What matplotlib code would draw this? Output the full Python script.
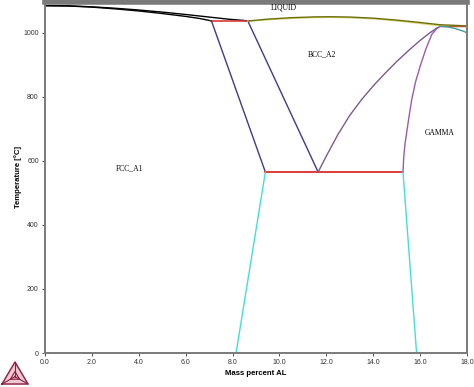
import matplotlib
matplotlib.use("Agg")
import matplotlib.pyplot as plt
import numpy as np

# ---- data (mass percent Al, temperature °C) ----
fcc_liq_x = [0.0, 1.0, 2.0, 3.0, 4.0, 5.0, 6.0, 7.0, 7.8, 8.7]
fcc_liq_t = [1084.6, 1084.0, 1081.0, 1076.5, 1071.0, 1064.5, 1057.0, 1049.0, 1042.5, 1037.0]
fcc_sol_x = [0.0, 1.0, 2.0, 3.0, 4.0, 5.0, 6.0, 6.6, 7.1]
fcc_sol_t = [1084.6, 1083.5, 1080.0, 1074.5, 1068.0, 1060.0, 1051.0, 1044.5, 1037.0]

peritectic_x = [7.1, 8.7]
peritectic_t = [1037.0, 1037.0]

fcc_bcc_left_x = [7.1, 9.4]
fcc_bcc_left_t = [1037.0, 565.0]
fcc_bcc_right_x = [8.65, 11.65]
fcc_bcc_right_t = [1037.0, 565.0]

eutectoid_x = [9.4, 15.27]
eutectoid_t = [565.0, 565.0]

bcc_gam_left_x = [11.65, 12.0, 12.5, 13.0, 13.5, 14.0, 14.5, 15.0, 15.5, 16.0, 16.4, 16.7, 16.85]
bcc_gam_left_t = [565.0, 615.0, 683.0, 742.0, 791.0, 834.0, 873.0, 910.0, 944.0, 976.0, 999.0, 1014.0, 1020.0]
bcc_gam_right_x = [15.27, 15.3, 15.35, 15.43, 15.53, 15.64, 15.8, 16.0, 16.25, 16.5, 16.7, 16.85]
bcc_gam_right_t = [565.0, 610.0, 650.0, 690.0, 740.0, 790.0, 845.0, 895.0, 950.0, 995.0, 1012.0, 1020.0]

bcc_liq_x = [8.7, 9.5, 10.5, 11.5, 12.2, 13.0, 14.0, 15.0, 16.0, 16.85, 17.5, 18.0]
bcc_liq_t = [1037.0, 1042.5, 1047.0, 1049.5, 1050.0, 1049.0, 1045.5, 1039.5, 1032.0, 1025.0, 1023.0, 1021.5]
bcc_sol_x = [8.65, 9.5, 10.5, 11.5, 12.2, 13.0, 14.0, 15.0, 16.0, 16.85, 17.5, 18.0]
bcc_sol_t = [1036.0, 1040.5, 1045.0, 1047.5, 1048.0, 1047.0, 1043.5, 1037.0, 1029.0, 1021.5, 1020.0, 1019.0]

gam_peri_x = [16.85, 18.0]
gam_peri_t = [1020.0, 1020.0]
gam_sol_x = [16.85, 17.2, 17.5, 17.8, 18.0]
gam_sol_t = [1020.0, 1018.0, 1013.0, 1006.0, 1000.0]

fcc_solvus_x = [9.4, 8.15]
fcc_solvus_t = [565.0, 0.0]
gam_solvus_x = [15.27, 15.85]
gam_solvus_t = [565.0, 0.0]

x_ticks = [0, 2, 4, 6, 8, 10, 12, 14, 16, 18]
y_ticks = [0, 200, 400, 600, 800, 1000]

labels = [("LIQUID", 10.2, 1078), ("BCC_A2", 11.8, 934), ("GAMMA", 16.85, 687), ("FCC_A1", 3.6, 578)]

# ---- figure ----
fig = plt.figure(figsize=(4.74, 3.87), dpi=100)
ax = fig.add_axes([45 / 474, 34 / 387, 422 / 474, 351 / 387])

lw = 1.0
ax.plot(fcc_liq_x, fcc_liq_t, color="black", lw=lw)
ax.plot(fcc_sol_x, fcc_sol_t, color="black", lw=lw)
ax.plot(peritectic_x, peritectic_t, color="#d83a3a", lw=1.2)
ax.plot(fcc_bcc_left_x, fcc_bcc_left_t, color="#3c3c8a", lw=lw)
ax.plot(fcc_bcc_right_x, fcc_bcc_right_t, color="#3c3c8a", lw=lw)
ax.plot(eutectoid_x, eutectoid_t, color="#e03a3a", lw=1.4)
ax.plot(bcc_gam_left_x, bcc_gam_left_t, color="#7d5a8e", lw=lw)
ax.plot(bcc_gam_right_x, bcc_gam_right_t, color="#9a5ab0", lw=lw)
ax.plot(bcc_sol_x, bcc_sol_t, color="#d8d870", lw=lw)
ax.plot(bcc_liq_x, bcc_liq_t, color="#6e6e10", lw=lw)
ax.plot(gam_peri_x, gam_peri_t, color="#b05a30", lw=lw)
ax.plot(gam_sol_x, gam_sol_t, color="#4a9a9a", lw=lw)
ax.plot(fcc_solvus_x, fcc_solvus_t, color="#40e0d8", lw=lw)
ax.plot(gam_solvus_x, gam_solvus_t, color="#40e0d8", lw=lw)

for txt, x, t in labels:
    ax.text(x, t, txt, family="Liberation Serif", fontsize=5.5, ha="center", va="center")

ax.set_xlim(0, 18)
ax.set_ylim(0, 1096)
ax.set_xticks(x_ticks)
ax.set_xticklabels([f"{v:.1f}" for v in x_ticks])
ax.set_yticks(y_ticks)
ax.set_yticklabels([str(v) for v in y_ticks])
ax.tick_params(labelsize=5, length=2.5, width=0.6, colors="#333333", pad=2)
for lab in ax.get_xticklabels() + ax.get_yticklabels():
    lab.set_family("Liberation Sans")
for s in ax.spines.values():
    s.set_color("#7a7a7a")
    s.set_linewidth(1.4)
ax.spines["top"].set_linewidth(4)

ax.set_xlabel("Mass percent AL", family="Liberation Sans", fontweight="bold", fontsize=5.6, labelpad=3)
ax.set_ylabel("Temperature [°C]", family="Liberation Sans", fontweight="bold", fontsize=5.6, labelpad=1)

# logo
lax = fig.add_axes([0, 0, 32 / 474, 28 / 387])
lax.set_xlim(0, 32)
lax.set_ylim(0, 28)
lax.axis("off")
A = np.array([2, 3]); B = np.array([28, 3]); C = np.array([15, 25])
G = (A + B + C) / 3
tri = np.array([A, B, C, A])
lax.fill(tri[:, 0], tri[:, 1], color="#f0c8d4")
lax.plot(tri[:, 0], tri[:, 1], color="#8a2040", lw=1.0)
for P in (A, B, C):
    lax.plot([P[0], G[0]], [P[1], G[1]], color="#8a2040", lw=0.8)
inner = np.array([(A * 0.35 + G * 0.65), (B * 0.35 + G * 0.65), (C * 0.35 + G * 0.65)])
inner = np.vstack([inner, inner[0]])
lax.plot(inner[:, 0], inner[:, 1], color="#8a2040", lw=0.8)

fig.savefig("out.png", dpi=100)
